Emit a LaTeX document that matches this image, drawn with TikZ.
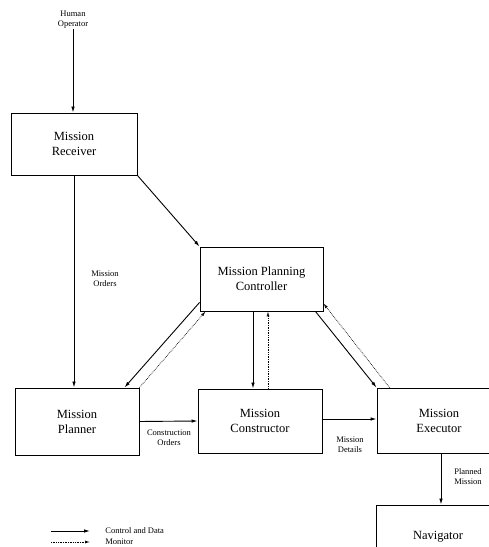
\documentclass[tikz,border=0pt]{standalone}
\usepackage{fontspec}
\setmainfont{Liberation Serif}
\usepackage{tikz}
\usetikzlibrary{shapes,arrows.meta,calc}

\begin{document}
\begin{tikzpicture}[x=1pt,y=1pt]
\tikzstyle{every node}=[font=\fontsize{12.5}{15}\selectfont]
\tikzstyle{module}=[draw,line width=0.9pt,minimum width=124pt,minimum height=64pt,align=center,inner sep=0pt]
\tikzstyle{flow}=[line width=0.9pt,-{Latex[length=6pt,width=3.5pt]}]
\tikzstyle{monitor}=[line width=0.7pt,densely dotted,-{Latex[length=5pt,width=3pt,open]}]
\tikzstyle{tag}=[font=\fontsize{8.5}{10}\selectfont,align=center,inner sep=1pt]
\useasboundingbox (0,0) rectangle (489,547);
\clip (0,0) rectangle (489,547);
% modules
\node [module,minimum width=126pt,minimum height=62pt] (rec) at (74,403) {Mission\\Receiver};
\node [module,minimum width=123pt] (mpc) at (261.5,268) {Mission Planning\\Controller};
\node [module,minimum height=67pt] (plan) at (77,125.5) {Mission\\Planner};
\node [module] (con) at (260,126) {Mission\\Constructor};
\node [module,minimum height=65pt] (exec) at (439,126.5) {Mission\\Executor};
\node [module] (nav) at (438,10) {Navigator};
% labels
\node [tag] (ho) at (73,527.5) {Human\\Operator};
\node [tag] at (105,268) {Mission\\Orders};
\node [tag] at (169,109) {Construction\\Orders};
\node [tag] at (350,102) {Mission\\Details};
\node [tag] at (468,70) {Planned\\Mission};
% attachment points
\coordinate (mpcdown) at ($(mpc.south)+(-8.5,0)$);
\coordinate (mpcup) at ($(mpc.south)+(6.5,0)$);
\coordinate (execdown) at ($(exec.south)+(2,0)$);
% control and data
\draw [flow] (ho.south) -- (ho.south |- rec.north);
\draw [flow] (rec.south) -- (rec.south |- plan.north);
\draw [flow] (rec.south east) -- (mpc.north west);
\draw [flow] ($(mpc.south west)+(0,9)$) -- ($(plan.north east)+(-15,0)$);
\draw [flow] (mpcdown) -- (mpcdown |- con.north);
\draw [flow] ($(mpc.south east)+(-8,0)$) -- (exec.north west);
\draw [flow] (plan.east) -- (con.west);
\draw [flow] ($(con.east)+(0,2)$) -- ($(exec.west)+(0,1.5)$);
\draw [flow] (execdown) -- (execdown |- nav.north);
% monitor
\draw [monitor] (plan.north east) -- ($(mpc.south west)+(6,0)$);
\draw [monitor] (mpcup |- con.north) -- (mpcup);
\draw [monitor] ($(exec.north west)+(13,0)$) -- ($(mpc.south east)+(0,8)$);
% legend
\coordinate (l1) at (51,16);
\coordinate (l2) at (51,5);
\draw [flow] (l1) -- ++(39,0) node [tag,anchor=west,xshift=14pt] {Control and Data};
\draw [monitor] (l2) -- ++(39,0) node [tag,anchor=west,xshift=14pt] {Monitor};
\end{tikzpicture}
\end{document}
